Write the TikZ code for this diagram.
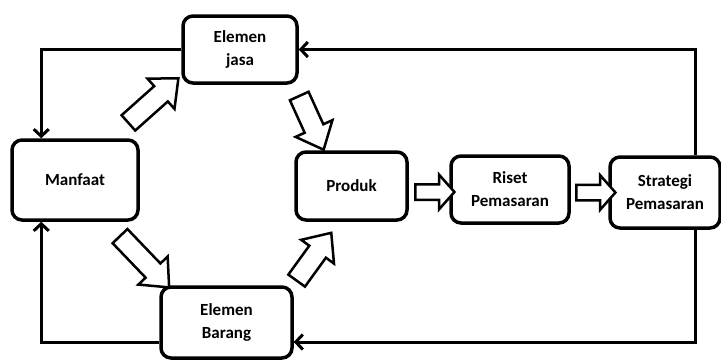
\documentclass[tikz,border=0pt]{standalone}
\usepackage{fontspec}
\setmainfont{Carlito}[BoldFont={Carlito Bold}]
\usepackage{tikz}
\usetikzlibrary{arrows.meta,calc,shapes.arrows}
\tikzstyle{stepbox} = [draw=black, fill=white, line width=3.5pt,
    rectangle, rounded corners=10pt, align=center, inner sep=2pt,
    font=\fontsize{17}{23}\selectfont\bfseries]
\tikzstyle{feedline} = [draw=black, line width=3pt,
    -{Straight Barb[length=7pt,width=15pt,line width=3pt]}]
\tikzstyle{diagarrow} = [draw=black, fill=white, line width=2.5pt,
    single arrow, inner xsep=0pt, inner ysep=9pt,
    single arrow head extend=10pt, single arrow tip angle=82, sloped]
\tikzstyle{flatarrow} = [draw=black, fill=white, line width=2.5pt,
    single arrow, inner xsep=0pt, inner ysep=6.5pt, minimum height=39pt,
    single arrow head extend=9.5pt, single arrow tip angle=97, sloped]

\begin{document}
\begin{tikzpicture}[x=1pt,y=1pt]
\useasboundingbox (0,0) rectangle (721,360);
% boxes
\node [stepbox, minimum width=114pt, minimum height=67pt] (jasa) at (240,310.5) {Elemen\\jasa};
\node [stepbox, minimum width=126pt, minimum height=80pt] (manfaat) at (75,180) {Manfaat};
\node [stepbox, minimum width=131pt, minimum height=71pt] (barang) at (226.5,37.5) {Elemen\\Barang};
\node [stepbox, minimum width=111pt, minimum height=68pt] (produk) at (351.5,174) {Produk};
\node [stepbox, minimum width=118pt, minimum height=67pt] (riset) at (510,170.5) {Riset\\Pemasaran};
\node [stepbox, minimum width=110pt, minimum height=71pt] (strategi) at (665,167.5) {Strategi\\Pemasaran};
% feedback lines
\draw [feedline] (jasa.west) -| ($(manfaat.north west)+(31,0)$);
\draw [feedline] ($(strategi.north)+(30,0)$) |- (jasa.east);
\draw [feedline] ($(strategi.south)+(30,0)$) |- ($(barang.east)+(0,-19.5)$);
\draw [feedline] ($(barang.west)+(0,-19.5)$) -| ($(manfaat.south west)+(31,0)$);
% block arrows
\path ($(manfaat.north east)+(-14,13)$) -- ($(jasa.south west)+(-9,1)$)
    node [diagarrow, midway, minimum height=67pt] (a1) {};
\path ($(jasa.south east)+(-1,-8)$) -- ($(produk.north west)+(26,8)$)
    node [diagarrow, midway, minimum height=59pt] (a2) {};
\path ($(manfaat.south east)+(-22,-12)$) -- ($(barang.north west)+(4,4)$)
    node [diagarrow, midway, minimum height=71pt] (a3) {};
\path ($(barang.north east)+(1,2)$) -- ($(produk.south west)+(32,-18)$)
    node [diagarrow, midway, minimum height=59pt] (a4) {};
\path ($(produk.east)+(5,-6)$) -- ($(riset.west)+(0,-2.5)$)
    node [flatarrow, midway] (a5) {};
\path ($(riset.east)+(4,-3)$) -- ($(strategi.west)+(2,0)$)
    node [flatarrow, midway] (a6) {};
\end{tikzpicture}
\end{document}
